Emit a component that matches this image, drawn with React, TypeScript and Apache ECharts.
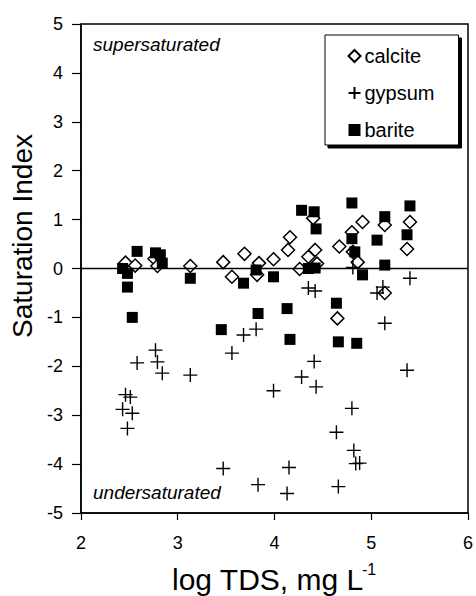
import React, { useEffect, useRef } from "react";
import * as echarts from "echarts";

const calcite: [number, number][] = [
  [2.46, 0.12], [2.56, 0.06], [2.76, 0.2], [2.79, 0.05], [3.13, 0.05], [3.47, 0.13],
  [3.56, -0.17], [3.69, 0.3], [3.82, -0.13], [3.84, 0.11], [3.99, 0.19], [4.14, 0.38],
  [4.16, 0.64], [4.26, -0.01], [4.35, 0.24], [4.4, 1.03], [4.42, 0.38], [4.44, 0.1],
  [4.65, -1.02], [4.67, 0.45], [4.8, 0.74], [4.81, 0.34], [4.86, 0.13], [4.91, 0.95],
  [5.14, 0.89], [5.14, -0.5], [5.37, 0.4], [5.4, 0.95],
];

const gypsum: [number, number][] = [
  [2.43, -2.88], [2.46, -2.58], [2.48, -3.27], [2.51, -2.63], [2.53, -2.96], [2.58, -1.93],
  [2.77, -1.67], [2.79, -1.91], [2.84, -2.14], [3.13, -2.18], [3.47, -4.09], [3.56, -1.73],
  [3.68, -1.36], [3.81, -1.24], [3.83, -4.42], [3.99, -2.5], [4.13, -4.6], [4.15, -4.07],
  [4.28, -2.22], [4.35, -0.4], [4.41, -1.9], [4.42, -0.46], [4.43, -2.42], [4.64, -3.35],
  [4.66, -4.46], [4.8, -2.86], [4.81, 0.02], [4.82, -3.72], [4.84, -3.99], [4.88, -3.98],
  [5.06, -0.5], [5.12, -0.38], [5.14, -1.12], [5.37, -2.08], [5.4, -0.2],
];

const barite: [number, number][] = [
  [2.43, 0.0], [2.48, -0.1], [2.48, -0.38], [2.53, -1.0], [2.58, 0.35], [2.77, 0.32],
  [2.82, 0.28], [2.84, 0.11], [3.13, -0.2], [3.45, -1.25], [3.68, -0.3], [3.81, -0.03],
  [3.83, -0.92], [3.99, -0.17], [4.13, -0.82], [4.16, -1.45], [4.28, 1.19], [4.35, 0.0],
  [4.41, 1.16], [4.42, 0.01], [4.43, 0.81], [4.64, -0.71], [4.66, -1.5], [4.8, 1.34],
  [4.8, 0.61], [4.83, 0.34], [4.85, -1.53], [4.91, -0.13], [5.06, 0.58], [5.14, 1.06],
  [5.14, 0.07], [5.37, 0.69], [5.4, 1.28],
];

const seriesNames = ["calcite", "gypsum", "barite"];
const xTicks = { min: 2, max: 6, interval: 1 };
const yTicks = { min: -5, max: 5, interval: 1 };

const FONT = "'Liberation Sans', Arial, Helvetica, sans-serif";

export default function App() {
  const ref = useRef<HTMLDivElement>(null);
  useEffect(() => {
    document.body.style.margin = "0";
    const chart = echarts.init(ref.current!, undefined, { renderer: "svg" });
    chart.setOption({
      animation: false,
      backgroundColor: "#fff",
      textStyle: { fontFamily: FONT },
      grid: {
        left: 81, top: 24, width: 387, height: 489,
        show: true, borderColor: "#000", borderWidth: 1.5, backgroundColor: "transparent",
      },
      xAxis: {
        type: "value", ...xTicks,
        axisLine: { show: true, onZero: false, lineStyle: { color: "#000", width: 1.5 } },
        axisTick: { show: true, inside: false, length: 7, lineStyle: { color: "#000", width: 1.2 } },
        axisLabel: { color: "#000", fontSize: 18, margin: 21, fontFamily: FONT },
        splitLine: { show: false },
      },
      yAxis: {
        type: "value", ...yTicks,
        axisLine: { show: true, onZero: false, lineStyle: { color: "#000", width: 1.5 } },
        axisTick: { show: true, inside: false, length: 9, lineStyle: { color: "#000", width: 1.2 } },
        axisLabel: { color: "#000", fontSize: 18, margin: 18, fontFamily: FONT },
        splitLine: { show: false },
      },
      legend: {
        orient: "vertical",
        left: 325, top: 35,
        data: seriesNames,
        padding: [11, 24, 5, 21],
        itemGap: 17,
        itemWidth: 12, itemHeight: 12,
        backgroundColor: "#fff",
        borderColor: "#000", borderWidth: 1,
        shadowColor: "#000", shadowBlur: 1, shadowOffsetX: 3, shadowOffsetY: 3,
        textStyle: { color: "#000", fontSize: 20, fontFamily: FONT, padding: [0, 0, 0, -1] },
      },
      graphic: [
        { type: "text", x: 93, y: 44, style: { text: "supersaturated", fontSize: 19, fontStyle: "italic", fontFamily: FONT, fill: "#000", verticalAlign: "middle" } },
        { type: "text", x: 93, y: 492, style: { text: "undersaturated", fontSize: 19, fontStyle: "italic", fontFamily: FONT, fill: "#000", verticalAlign: "middle" } },
        { type: "text", x: 172, y: 579, style: { text: "log TDS, mg L", fontSize: 30, fontFamily: FONT, fill: "#000", verticalAlign: "middle" } },
        { type: "text", x: 362, y: 569, style: { text: "-1", fontSize: 16, fontFamily: FONT, fill: "#000", verticalAlign: "middle" } },
        { type: "text", x: 22, y: 236, rotation: Math.PI / 2, style: { text: "Saturation Index", fontSize: 28, fontFamily: FONT, fill: "#000", align: "center", verticalAlign: "middle" } },
      ],
      series: [
        {
          name: "calcite", type: "scatter", data: calcite,
          symbol: "diamond", symbolSize: 13,
          itemStyle: { color: "#fff", borderColor: "#000", borderWidth: 1.5, opacity: 1 },
          z: 2,
          markLine: {
            silent: true, symbol: "none", label: { show: false },
            lineStyle: { color: "#000", width: 1.3, type: "solid" },
            data: [{ yAxis: 0 }],
          },
        },
        {
          name: "gypsum", type: "scatter", data: gypsum,
          symbol: "path://M0,7H14M7,0V14", symbolSize: 14,
          itemStyle: { color: "none", borderColor: "#000", borderWidth: 1.4, opacity: 1 },
          z: 3,
        },
        {
          name: "barite", type: "scatter", data: barite,
          symbol: "rect", symbolSize: 11,
          itemStyle: { color: "#000", opacity: 1 },
          z: 4,
        },
      ],
    });
    return () => chart.dispose();
  }, []);
  return <div ref={ref} style={{ width: 476, height: 596 }} />;
}
